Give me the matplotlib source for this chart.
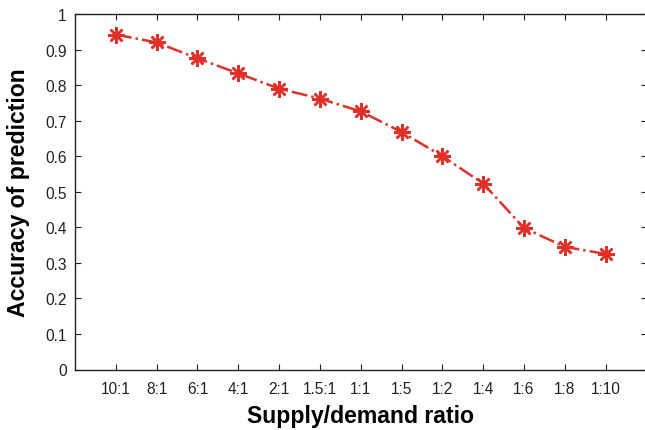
import matplotlib
matplotlib.use("Agg")
import matplotlib.pyplot as plt

# Values
ratios = ['10:1', '8:1', '6:1', '4:1', '2:1', '1.5:1', '1:1',
          '1:5', '1:2', '1:4', '1:6', '1:8', '1:10']
accuracy = [0.942, 0.920, 0.875, 0.833, 0.790, 0.762, 0.726,
            0.668, 0.600, 0.523, 0.398, 0.345, 0.325]
yticks = [0, 0.1, 0.2, 0.3, 0.4, 0.5, 0.6, 0.7, 0.8, 0.9, 1]

plt.rcParams['font.family'] = ['Liberation Sans', 'DejaVu Sans']

fig = plt.figure(figsize=(6.45, 4.31), dpi=100)
ax = fig.add_axes([75 / 645, 60.5 / 431, 571.5 / 645, 355.5 / 431])

xs = list(range(1, len(ratios) + 1))
ax.plot(xs, accuracy, color='#e0302a', linestyle='-.', linewidth=1.8,
        marker=(8, 2, 0), markersize=12, markeredgewidth=1.8)

ax.set_xlim(0, 14)
ax.set_ylim(0, 1)
ax.set_xticks(xs)
ax.set_xticklabels(ratios)
ax.set_yticks(yticks)
ax.set_yticklabels([f'{v:g}' for v in yticks])

ax.tick_params(direction='in', length=4, width=0.8, top=True, right=True,
               labelsize=11.2, colors='#222222', labelcolor='#222222')
ax.tick_params(axis='x', pad=8)
ax.tick_params(axis='y', pad=6)
for s in ax.spines.values():
    s.set_linewidth(1.0)
    s.set_color('#222222')

ax.set_xlabel('Supply/demand ratio', fontsize=16.6, fontweight='bold', labelpad=6)
ax.set_ylabel('Accuracy of prediction', fontsize=16.6, fontweight='bold', labelpad=11)

fig.savefig('out.png', dpi=100)
